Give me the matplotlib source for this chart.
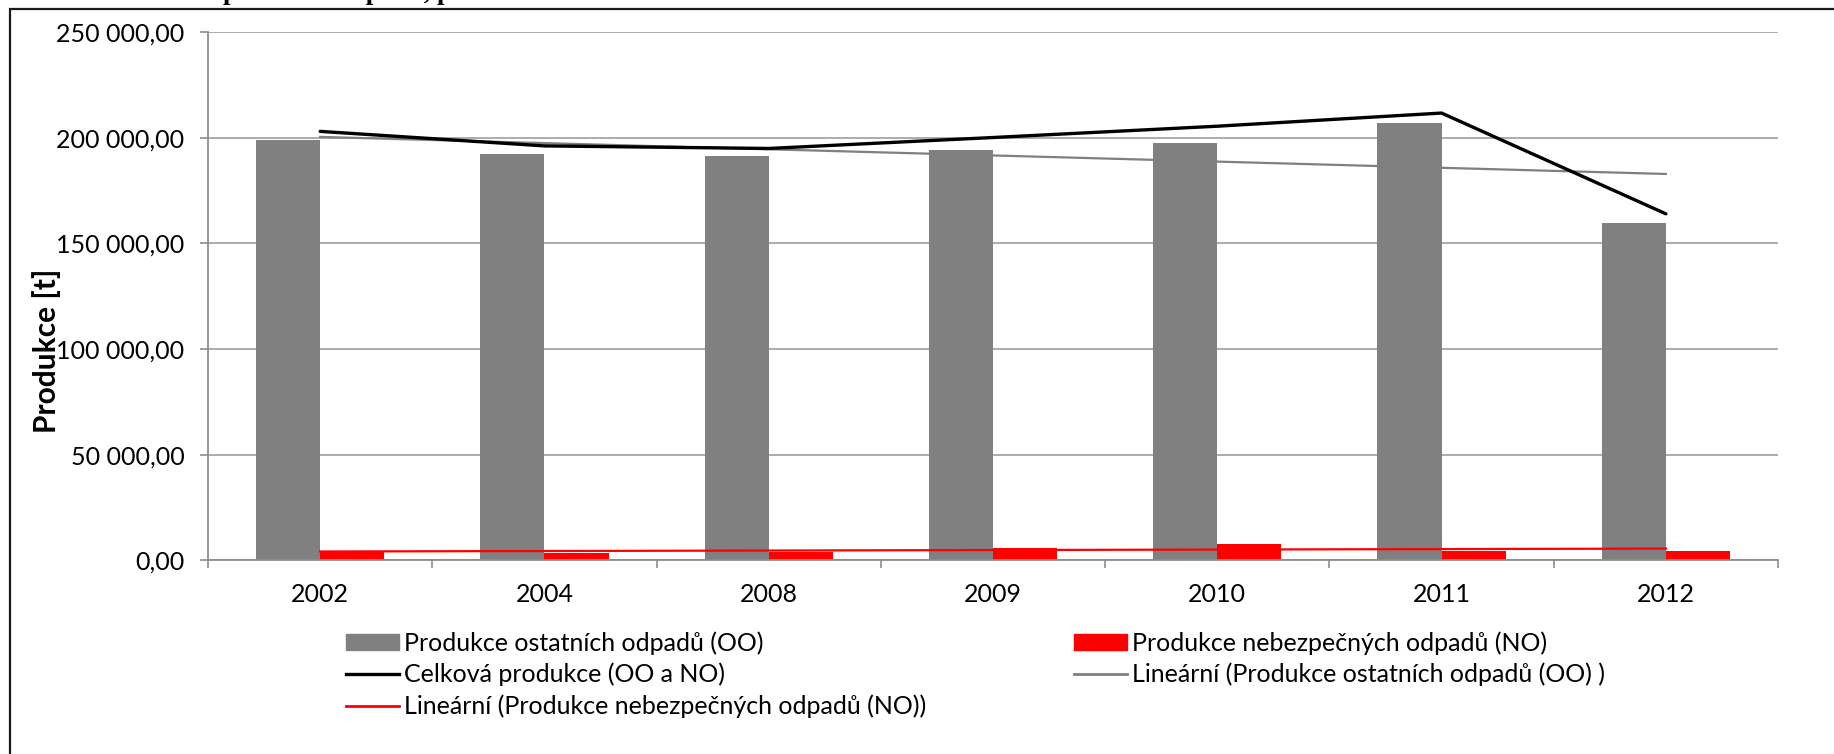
import numpy as np
import matplotlib
matplotlib.use("Agg")
import matplotlib.pyplot as plt
from matplotlib.patches import Rectangle
from matplotlib.lines import Line2D
from matplotlib.ticker import FuncFormatter, FixedLocator, MultipleLocator

# Data (t)
years = ["2002", "2004", "2008", "2009", "2010", "2011", "2012"]
ostatni = [198900, 192500, 191100, 194100, 197700, 207100, 159700]
nebezpecne = [4070, 3600, 3790, 5970, 7720, 4545, 4260]
celkova = [202970, 196100, 194890, 200070, 205420, 211645, 163960]

lbl_oo = "Produkce ostatních odpadů (OO)"
lbl_no = "Produkce nebezpečných odpadů (NO)"
lbl_total = "Celková produkce (OO a NO)"
lbl_trend_oo = "Lineární (Produkce ostatních odpadů (OO) )"
lbl_trend_no = "Lineární (Produkce nebezpečných odpadů (NO))"

FONT = "Lato"
plt.rcParams["font.family"] = [FONT, "DejaVu Sans"]
FS = 18
W, H = 1834, 754
fig = plt.figure(figsize=(W / 100, H / 100), dpi=100)
fig.patch.set_facecolor("white")

left, right, top, bottom = 208, 1778, 32, 560.3
ax = fig.add_axes([left / W, 1 - bottom / H, (right - left) / W, (bottom - top) / H])

x = np.arange(len(years))
w = 1 / 3.5
gray = "#808080"
red = "#ff0000"

ax.bar(x - w / 2, ostatni, w, color=gray, zorder=2)
ax.bar(x + w / 2, nebezpecne, w, color=red, zorder=2)

# Linear trend lines (least squares over category index)
k_oo = np.polyfit(x, ostatni, 1)
k_no = np.polyfit(x, nebezpecne, 1)
ax.plot(x, np.polyval(k_oo, x), color="#7f7f7f", lw=1.6, zorder=3)
ax.plot(x, np.polyval(k_no, x), color=red, lw=1.6, zorder=3)
ax.plot(x, celkova, color="black", lw=2.4, zorder=4, solid_capstyle="round")

ax.set_xlim(-0.5, len(years) - 0.5)
ax.set_ylim(0, 250000)
ax.yaxis.set_major_locator(MultipleLocator(50000))
ax.yaxis.set_major_formatter(FuncFormatter(
    lambda v, p: f"{v:,.2f}".replace(",", " ").replace(".", ",")))
ax.set_xticks(x)
ax.set_xticklabels(years)
ax.xaxis.set_minor_locator(FixedLocator(np.arange(-0.5, len(years), 1.0)))

grid_c = "#a6a6a6"
ax.grid(axis="y", color=grid_c, lw=1.3, zorder=0)
ax.set_axisbelow(True)
for s in ["top", "right"]:
    ax.spines[s].set_visible(False)
for s in ["left", "bottom"]:
    ax.spines[s].set_color("#8c8c8c")
    ax.spines[s].set_linewidth(1.3)

ax.tick_params(axis="x", which="major", length=0, pad=16, labelsize=FS, labelcolor="black")
ax.tick_params(axis="x", which="minor", length=6, width=1.2, color="#8c8c8c")
ax.tick_params(axis="y", length=6, width=1.2, color="#8c8c8c", pad=11, labelsize=FS)

fig.text(47 / W, 1 - 351 / H, "Produkce [t]", rotation=90, ha="center", va="center",
         fontsize=21.5, fontweight="bold")

# Heading line at the top edge (only its lower part fits on the page)
fig.text(223 / W, 1 + 1.2 / H, "produkce odpadů, p", ha="left", va="baseline",
         fontsize=19.2, fontweight="bold", family="Liberation Serif")

# Outer frame
fig.add_artist(Rectangle((10 / W, -0.5), 2.0, (1 - 9 / H) + 0.5,
                         transform=fig.transFigure, fill=False,
                         edgecolor="#1a1a1a", lw=1.6, zorder=10))

# Legend in two blocks
h_oo = Rectangle((0, 0), 1, 1, color=gray)
h_no = Rectangle((0, 0), 1, 1, color=red)
h_tot = Line2D([], [], color="black", lw=2.4)
h_toon = Line2D([], [], color="#7f7f7f", lw=2.0)
h_tno = Line2D([], [], color=red, lw=2.0)

common = dict(loc="upper left", frameon=False, borderpad=0, borderaxespad=0,
              handlelength=2.1, handleheight=0.62, handletextpad=0.22,
              labelspacing=0.33, prop={"family": FONT, "size": FS})
leg1 = fig.legend([h_oo, h_tot, h_tno], [lbl_oo, lbl_total, lbl_trend_no],
                  bbox_to_anchor=(346 / W, 1 - 631 / H), **common)
leg2 = fig.legend([h_no, h_toon], [lbl_no, lbl_trend_oo],
                  bbox_to_anchor=(1074 / W, 1 - 631 / H), **common)

fig.savefig("out.png", dpi=100, facecolor="white")
